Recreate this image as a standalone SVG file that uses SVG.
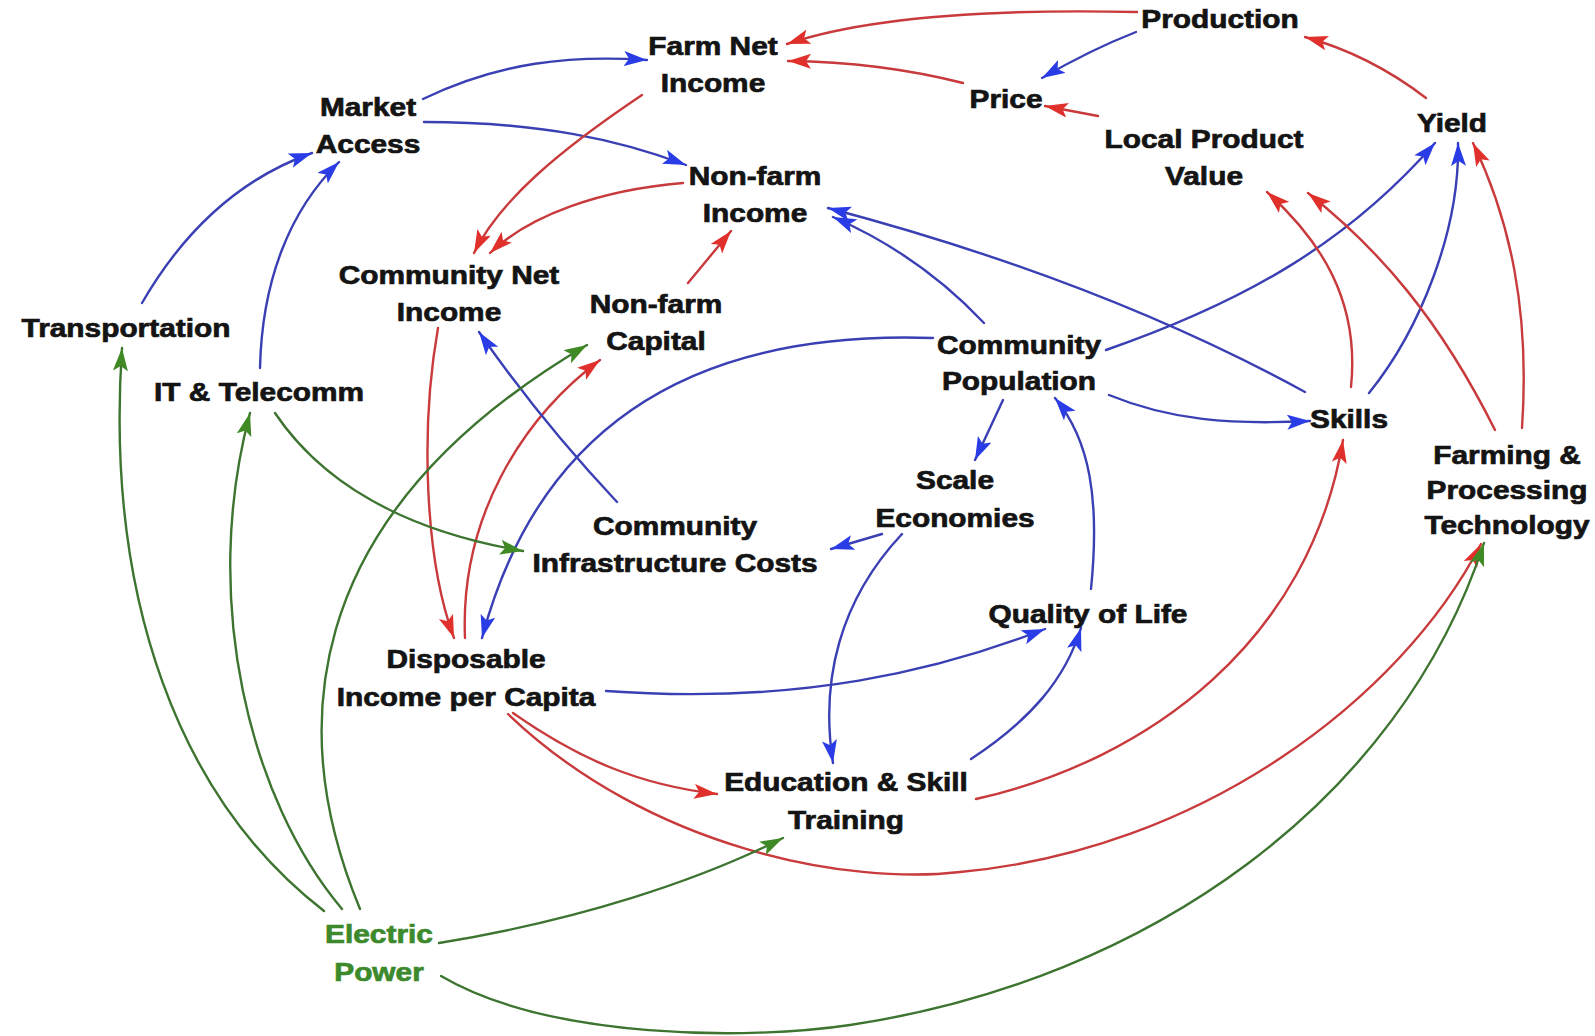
<svg xmlns="http://www.w3.org/2000/svg" width="1595" height="1036" viewBox="0 0 1595 1036">
  <defs>
    <marker id="ah-red" markerUnits="userSpaceOnUse" markerWidth="26" markerHeight="16" refX="23" refY="7.5" orient="auto">
      <path d="M0,0 L23,7.5 L0,15 L5,7.5 Z" fill="#e0302c"/>
    </marker>
    <marker id="ah-blue" markerUnits="userSpaceOnUse" markerWidth="26" markerHeight="16" refX="23" refY="7.5" orient="auto">
      <path d="M0,0 L23,7.5 L0,15 L5,7.5 Z" fill="#2a3ce6"/>
    </marker>
    <marker id="ah-green" markerUnits="userSpaceOnUse" markerWidth="26" markerHeight="16" refX="23" refY="7.5" orient="auto">
      <path d="M0,0 L23,7.5 L0,15 L5,7.5 Z" fill="#3f8a25"/>
    </marker>
  </defs>
  <style>
    .lbl { font-family: "Liberation Sans", Arial, sans-serif; font-weight: bold; font-size: 25.5px; fill: #141414; stroke: #141414; stroke-width: 0.7; text-anchor: middle; }
    .pwr { fill: #3c8a2c; stroke: #3c8a2c; }
    .c { fill: none; stroke-width: 2.4; stroke-linecap: round; }
    .r { stroke: #c83a3c; marker-end: url(#ah-red); }
    .b { stroke: #3a40b4; marker-end: url(#ah-blue); }
    .g { stroke: #3d7430; marker-end: url(#ah-green); }
  </style>
  <rect width="1595" height="1036" fill="#ffffff"/>

  <!-- causal links -->
  <g id="connectors">
    <!-- market / income cluster -->
    <path class="c r" d="M1137,12 C1000,9 870,16 787,44"/>
    <path class="c b" d="M1136,32 Q1090,50 1042,78"/>
    <path class="c r" d="M963,83 Q880,62 788,61"/>
    <path class="c r" d="M1098,116 L1045,106"/>
    <path class="c r" d="M1426,98 Q1370,55 1305,37"/>
    <path class="c b" d="M423,99 C500,62 570,55 647,60"/>
    <path class="c b" d="M424,122 C540,122 620,140 686,165"/>
    <path class="c r" d="M642,95 C560,150 500,200 474,253"/>
    <path class="c r" d="M683,183 C600,190 530,215 490,253"/>
    <path class="c r" d="M688,283 L731,231"/>
    <path class="c b" d="M142,303 C190,220 250,175 312,153"/>
    <path class="c b" d="M260,368 C262,280 290,210 339,162"/>
    <!-- income / capital loop -->
    <path class="c r" d="M438,328 C420,430 425,560 454,638"/>
    <path class="c r" d="M465,638 C460,520 520,420 600,360"/>
    <path class="c b" d="M933,338 C700,330 540,420 482,638"/>
    <path class="c b" d="M617,502 Q540,420 479,332"/>
    <path class="c g" d="M275,413 C320,480 400,530 523,551"/>
    <!-- population links -->
    <path class="c b" d="M984,323 Q920,255 833,217"/>
    <path class="c b" d="M1305,392 Q1100,280 828,208"/>
    <path class="c b" d="M1106,350 C1250,300 1350,240 1435,143"/>
    <path class="c b" d="M1109,395 C1170,420 1230,425 1310,421"/>
    <path class="c b" d="M1003,400 L975,460"/>
    <path class="c b" d="M1091,589 C1100,500 1090,440 1055,398"/>
    <path class="c b" d="M882,534 L831,549"/>
    <path class="c b" d="M902,534 C840,600 820,680 833,763"/>
    <path class="c b" d="M606,691 C800,705 940,670 1045,629"/>
    <path class="c b" d="M971,759 C1030,720 1065,680 1081,628"/>
    <!-- education and technology -->
    <path class="c r" d="M513,713 C580,760 640,785 717,794"/>
    <path class="c r" d="M508,714 C650,850 850,885 960,872 C1200,850 1400,700 1481,544"/>
    <path class="c r" d="M976,799 C1150,760 1310,640 1343,440"/>
    <path class="c b" d="M1369,393 C1420,330 1460,230 1458,143"/>
    <path class="c r" d="M1351,387 C1360,300 1320,240 1267,192"/>
    <path class="c r" d="M1495,430 C1440,320 1380,250 1308,193"/>
    <path class="c r" d="M1522,428 C1530,310 1510,220 1473,143"/>
    <!-- electric power -->
    <path class="c g" d="M324,911 C180,800 105,600 122,348"/>
    <path class="c g" d="M342,909 C250,800 200,600 250,413"/>
    <path class="c g" d="M360,909 C290,740 290,520 587,345"/>
    <path class="c g" d="M439,943 C580,920 700,880 783,838"/>
    <path class="c g" d="M441,976 C550,1040 750,1040 850,1025 C1150,980 1400,800 1484,543"/>
  </g>

  <!-- factors -->
  <g id="production"><text class="lbl" transform="translate(1220,0) scale(1.17,1)"><tspan x="0" y="28">Production</tspan></text></g>
  <g id="farm-net-income"><text class="lbl" transform="translate(713,0) scale(1.17,1)"><tspan x="0" y="55">Farm Net</tspan><tspan x="0" y="92">Income</tspan></text></g>
  <g id="price"><text class="lbl" transform="translate(1006,0) scale(1.17,1)"><tspan x="0" y="108">Price</tspan></text></g>
  <g id="local-product-value"><text class="lbl" transform="translate(1204,0) scale(1.17,1)"><tspan x="0" y="148">Local Product</tspan><tspan x="0" y="185">Value</tspan></text></g>
  <g id="yield"><text class="lbl" transform="translate(1452,0) scale(1.17,1)"><tspan x="0" y="132">Yield</tspan></text></g>
  <g id="market-access"><text class="lbl" transform="translate(368,0) scale(1.17,1)"><tspan x="0" y="116">Market</tspan><tspan x="0" y="153">Access</tspan></text></g>
  <g id="non-farm-income"><text class="lbl" transform="translate(755,0) scale(1.17,1)"><tspan x="0" y="185">Non-farm</tspan><tspan x="0" y="222">Income</tspan></text></g>
  <g id="community-net-income"><text class="lbl" transform="translate(449,0) scale(1.17,1)"><tspan x="0" y="284">Community Net</tspan><tspan x="0" y="321">Income</tspan></text></g>
  <g id="non-farm-capital"><text class="lbl" transform="translate(656,0) scale(1.17,1)"><tspan x="0" y="313">Non-farm</tspan><tspan x="0" y="350">Capital</tspan></text></g>
  <g id="transportation"><text class="lbl" transform="translate(126,0) scale(1.17,1)"><tspan x="0" y="337">Transportation</tspan></text></g>
  <g id="it-telecomm"><text class="lbl" transform="translate(259,0) scale(1.17,1)"><tspan x="0" y="401">IT &amp; Telecomm</tspan></text></g>
  <g id="community-population"><text class="lbl" transform="translate(1019,0) scale(1.17,1)"><tspan x="0" y="354">Community</tspan><tspan x="0" y="390">Population</tspan></text></g>
  <g id="skills"><text class="lbl" transform="translate(1349,0) scale(1.17,1)"><tspan x="0" y="428">Skills</tspan></text></g>
  <g id="scale-economies"><text class="lbl" transform="translate(955,0) scale(1.17,1)"><tspan x="0" y="489">Scale</tspan><tspan x="0" y="527">Economies</tspan></text></g>
  <g id="farming-processing-technology"><text class="lbl" transform="translate(1507,0) scale(1.17,1)"><tspan x="0" y="464">Farming &amp;</tspan><tspan x="0" y="499">Processing</tspan><tspan x="0" y="534">Technology</tspan></text></g>
  <g id="community-infrastructure-costs"><text class="lbl" transform="translate(675,0) scale(1.17,1)"><tspan x="0" y="535">Community</tspan><tspan x="0" y="572">Infrastructure Costs</tspan></text></g>
  <g id="quality-of-life"><text class="lbl" transform="translate(1088,0) scale(1.17,1)"><tspan x="0" y="623">Quality of Life</tspan></text></g>
  <g id="disposable-income"><text class="lbl" transform="translate(466,0) scale(1.17,1)"><tspan x="0" y="668">Disposable</tspan><tspan x="0" y="706">Income per Capita</tspan></text></g>
  <g id="education-skill-training"><text class="lbl" transform="translate(846,0) scale(1.17,1)"><tspan x="0" y="791">Education &amp; Skill</tspan><tspan x="0" y="829">Training</tspan></text></g>
  <g id="electric-power"><text class="lbl pwr" transform="translate(379,0) scale(1.17,1)"><tspan x="0" y="943">Electric</tspan><tspan x="0" y="981">Power</tspan></text></g>
</svg>
